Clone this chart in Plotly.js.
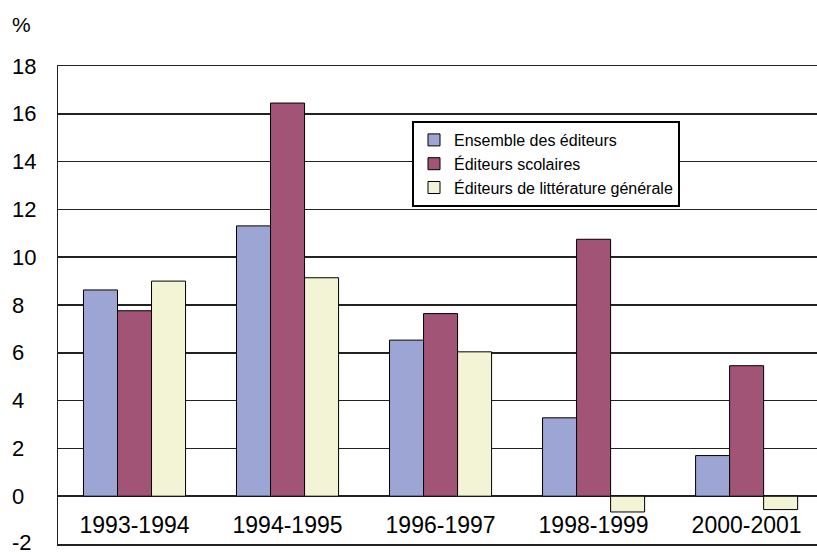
<!DOCTYPE html>
<html>
<head>
<meta charset="utf-8">
<script src="https://cdn.plot.ly/plotly-3.0.1.min.js"></script>
<style>html,body{margin:0;padding:0;background:#fff;}#chart{width:817px;height:554px;}</style>
</head>
<body>
<div id="chart"></div>
<script>
const categories = ["1993-1994", "1994-1995", "1996-1997", "1998-1999", "2000-2001"];
const seriesNames = ["Ensemble des éditeurs", "Éditeurs scolaires", "Éditeurs de littérature générale"];
const ensemble = [8.63, 11.31, 6.53, 3.28, 1.70];
const scolaires = [7.76, 16.45, 7.64, 10.75, 5.46];
const litterature = [9.0, 9.14, 6.04, -0.66, -0.56];
const yTicks = [-2, 0, 2, 4, 6, 8, 10, 12, 14, 16, 18];
const yUnit = "%";

const colors = ["#9CA5D4", "#A25477", "#F3F3D5"];
const FONT = "Liberation Sans, Arial, sans-serif";
const values = [ensemble, scolaires, litterature];

const traces = values.map((v, i) => ({
  type: "bar",
  name: seriesNames[i],
  x: categories,
  y: v,
  legendgroup: "g" + i,
  marker: {color: colors[i], line: {color: "#000", width: 1}},
  hoverinfo: "none"
}));

const L = 58, T = 66, B = 10, W = 817, H = 554;
const plotW = W - L;
const plotH = H - T - B;

const annotations = yTicks.map(t => ({
  xref: "paper", yref: "y",
  x: (10 - L) / plotW, y: t,
  xanchor: "left", yanchor: "middle",
  yshift: t === yTicks[0] ? 2 : 0,
  text: String(t), showarrow: false,
  font: {family: FONT, size: 22, color: "#000"}
}));
annotations.push({
  xref: "paper", yref: "paper",
  x: (10 - L) / plotW, y: (T + plotH - 24) / plotH,
  xanchor: "left", yanchor: "middle",
  text: yUnit, showarrow: false,
  font: {family: FONT, size: 21, color: "#000"}
});

const layout = {
  width: W, height: H,
  margin: {l: L, r: 0, t: T, b: B, pad: 0},
  paper_bgcolor: "#fff", plot_bgcolor: "#fff",
  font: {family: FONT, color: "#000"},
  barmode: "group",
  bargap: 0.333,
  bargroupgap: 0,
  showlegend: true,
  legend: {
    x: (412 - L) / plotW, y: (T + plotH - 121) / plotH,
    xanchor: "left", yanchor: "top",
    bgcolor: "#fff", bordercolor: "#000", borderwidth: 2,
    font: {family: FONT, size: 16, color: "#000"},
    tracegroupgap: 0,
    itemwidth: 30
  },
  xaxis: {
    type: "category",
    range: [-0.5, 4.46],
    showgrid: false,
    showline: true, linecolor: "#222", linewidth: 1.5,
    mirror: true,
    ticks: "",
    ticklabelposition: "inside",
    ticklabelstandoff: 8,
    tickfont: {family: FONT, size: 23, color: "#000"},
    zeroline: false,
    fixedrange: true
  },
  yaxis: {
    range: [-2, 18],
    tickvals: yTicks,
    showticklabels: false,
    showgrid: true, gridcolor: "#222", gridwidth: 1.5,
    showline: true, linecolor: "#222", linewidth: 1.5,
    zeroline: true, zerolinecolor: "#222", zerolinewidth: 1.5,
    ticks: "",
    fixedrange: true
  },
  annotations: annotations
};

Plotly.newPlot("chart", traces, layout, {displayModeBar: false, staticPlot: true});
</script>
</body>
</html>
